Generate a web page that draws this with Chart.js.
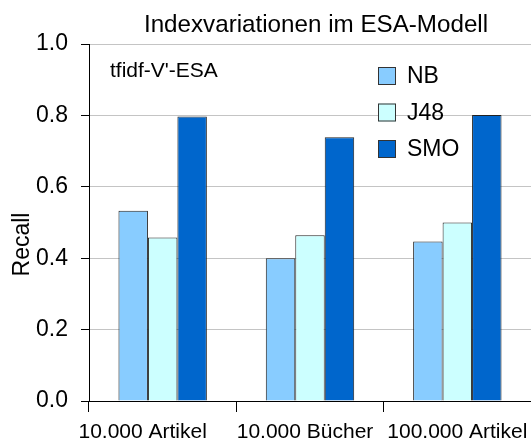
<!DOCTYPE html>
<html><head><meta charset="utf-8">
<script src="https://cdn.jsdelivr.net/npm/chart.js@4.4.0/dist/chart.umd.min.js"></script>
<style>html,body{margin:0;padding:0;background:#fff;overflow:hidden}canvas{display:block}</style>
</head><body>
<canvas id="c" width="531" height="441"></canvas>
<script>
const categories = ['10.000 Artikel', '10.000 Bücher', '100.000 Artikel'];
const seriesNames = ['NB', 'J48', 'SMO'];
const nbValues = [0.533, 0.400, 0.447];
const j48Values = [0.458, 0.464, 0.500];
const smoValues = [0.797, 0.739, 0.801];
const yTicks = [0.0, 0.2, 0.4, 0.6, 0.8, 1.0];
const titleText = 'Indexvariationen im ESA-Modell';
const annotationText = "tfidf-V'-ESA";
const yAxisTitle = 'Recall';

const FONT = '"Liberation Sans", Arial, Helvetica, sans-serif';
const colors = ['#88ccff', '#ccffff', '#0066cc'];
const seriesValues = [nbValues, j48Values, smoValues];
const xLabelShift = [-20, -5, 0];

const textPlugin = {
  id: 'innerText',
  afterDraw(chart) {
    const ctx = chart.ctx;
    const ca = chart.chartArea;
    ctx.save();
    ctx.fillStyle = '#000';
    ctx.textBaseline = 'middle';
    // title
    ctx.font = '24.2px ' + FONT;
    ctx.textAlign = 'center';
    ctx.fillText(titleText, (ca.left + ca.right) / 2 + 6, 25);
    // annotation text
    ctx.font = '21px ' + FONT;
    ctx.textAlign = 'left';
    ctx.fillText(annotationText, ca.left + 21, ca.top + 27);
    // legend
    const boxX = ca.right - 153;
    chart.data.datasets.forEach((ds, i) => {
      const y = ca.top + 23 + i * 36.5;
      ctx.fillStyle = ds.backgroundColor;
      ctx.fillRect(boxX, y, 18, 18);
      ctx.strokeStyle = '#333';
      ctx.lineWidth = 1;
      ctx.strokeRect(boxX + 0.5, y + 0.5, 17, 17);
      ctx.fillStyle = '#000';
      ctx.font = '23px ' + FONT;
      ctx.textAlign = 'left';
      ctx.fillText(ds.label, boxX + 29, y + 10);
    });
    // x category labels
    const xs = chart.scales.x;
    ctx.font = '21px ' + FONT;
    ctx.textAlign = 'center';
    categories.forEach((c, i) => {
      ctx.fillText(c, xs.getPixelForTick(i) + xLabelShift[i], ca.bottom + 31);
    });
    // y axis title
    ctx.font = '23px ' + FONT;
    ctx.translate(23, (ca.top + ca.bottom) / 2 + 22);
    ctx.rotate(-Math.PI / 2);
    ctx.fillText(yAxisTitle, 0, 0);
    ctx.restore();
  }
};

new Chart(document.getElementById('c'), {
  type: 'bar',
  data: {
    labels: categories,
    datasets: seriesNames.map((name, i) => ({
      label: name,
      data: seriesValues[i],
      backgroundColor: colors[i],
      borderColor: '#222',
      borderWidth: 1,
      categoryPercentage: 0.6,
      barPercentage: 1.0
    }))
  },
  options: {
    responsive: false,
    devicePixelRatio: 1,
    animation: false,
    layout: { padding: { top: 44, left: 0, right: 0, bottom: 0 } },
    plugins: {
      legend: { display: false },
      tooltip: { enabled: false },
      title: { display: false }
    },
    scales: {
      x: {
        grid: { offset: true, drawOnChartArea: false, color: '#000', tickColor: '#000', tickLength: 11 },
        border: { color: '#000', width: 1 },
        ticks: { display: false },
        afterFit: s => { s.height = 40; }
      },
      y: {
        min: 0, max: 1,
        afterBuildTicks: s => { s.ticks = yTicks.map(v => ({ value: v })); },
        ticks: { font: { family: FONT, size: 23 }, color: '#000', padding: 13, callback: v => Number(v).toFixed(1) },
        grid: { color: '#c4c4c4', tickColor: '#000', tickLength: 8, lineWidth: 1 },
        border: { color: '#000', width: 1 },
        title: { display: false },
        afterFit: s => { s.width = 89; }
      }
    }
  },
  plugins: [textPlugin]
});
</script>
</body></html>
